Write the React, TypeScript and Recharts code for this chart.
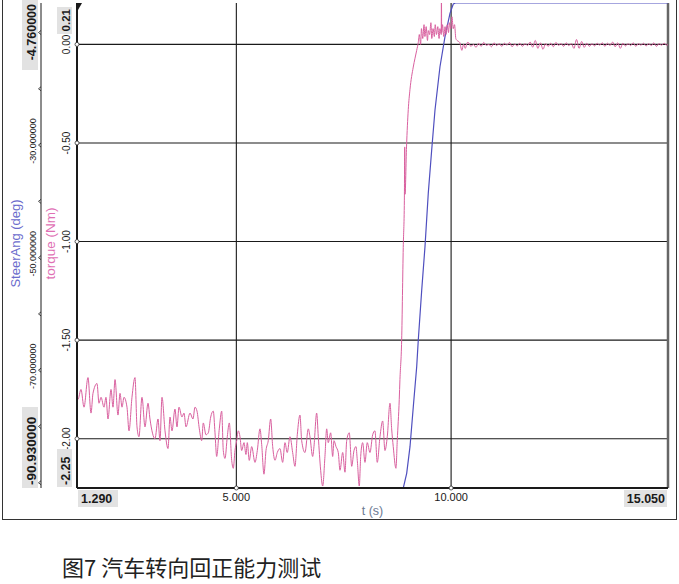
import { LineChart, Line, XAxis, YAxis, ReferenceLine, Label } from 'recharts';

// torque (Nm) over t (s)
const TORQUE: [number, number][] = [
  [1.29, -1.78], [1.313, -1.8], [1.383, -1.75], [1.453, -1.84], [1.546, -1.69], [1.616, -1.87],
  [1.662, -1.77], [1.756, -1.72], [1.802, -1.82], [1.849, -1.79], [1.919, -1.84], [1.965, -1.79],
  [2.012, -1.9], [2.082, -1.75], [2.128, -1.84], [2.175, -1.7], [2.244, -1.88], [2.291, -1.77],
  [2.338, -1.84], [2.384, -1.79], [2.454, -1.84], [2.501, -1.96], [2.57, -1.79], [2.64, -1.69],
  [2.687, -1.94], [2.733, -1.99], [2.803, -1.79], [2.873, -1.94], [2.943, -1.82], [2.989, -1.9],
  [3.106, -2.0], [3.176, -1.9], [3.222, -2.01], [3.269, -1.79], [3.339, -1.96], [3.409, -2.05],
  [3.455, -1.89], [3.502, -1.96], [3.571, -1.85], [3.618, -1.94], [3.665, -1.84], [3.734, -1.89],
  [3.781, -1.87], [3.828, -1.94], [3.921, -1.87], [3.99, -1.9],
  [4.037, -1.84], [4.084, -1.86], [4.138, -1.95], [4.193, -2.01], [4.23, -1.92], [4.293, -1.98],
  [4.347, -1.97], [4.403, -1.89], [4.463, -1.86], [4.503, -1.97], [4.542, -2.09], [4.603, -1.95],
  [4.659, -1.86], [4.696, -2.06], [4.736, -2.1], [4.789, -1.99], [4.836, -1.92], [4.892, -2.11],
  [4.929, -2.15], [4.968, -2.06], [5.008, -2.01], [5.045, -1.96], [5.085, -1.99], [5.124, -2.06],
  [5.178, -2.02], [5.224, -2.08], [5.255, -2.02], [5.301, -2.11], [5.357, -2.04], [5.434, -2.12],
  [5.488, -2.06], [5.55, -1.95], [5.59, -2.03], [5.643, -2.18], [5.69, -2.06], [5.743, -2.01],
  [5.799, -1.9], [5.846, -2.04], [5.9, -2.11], [5.953, -2.07], [6.016, -2.05], [6.078, -2.12],
  [6.132, -2.02], [6.185, -2.07], [6.249, -1.99], [6.311, -2.07], [6.365, -2.14], [6.419, -1.98],
  [6.481, -1.88], [6.521, -2.01], [6.598, -2.07], [6.675, -1.95],
  [6.714, -1.99], [6.777, -2.09], [6.807, -2.04], [6.87, -1.87], [6.908, -1.99], [6.963, -2.16],
  [7.01, -2.24], [7.063, -2.09], [7.103, -1.95], [7.14, -2.02], [7.196, -1.97], [7.243, -2.09],
  [7.273, -2.01], [7.32, -2.04], [7.373, -2.07], [7.413, -2.16], [7.476, -2.07], [7.529, -2.17],
  [7.569, -2.01], [7.629, -1.97], [7.686, -2.14], [7.739, -2.06], [7.785, -2.04], [7.816, -2.11],
  [7.862, -2.24], [7.895, -2.09], [7.941, -2.02], [7.995, -2.12], [8.048, -2.02], [8.111, -2.07],
  [8.174, -1.98], [8.227, -1.96], [8.281, -2.12], [8.344, -1.99], [8.407, -1.91], [8.46, -2.06],
  [8.514, -1.99], [8.577, -1.82], [8.616, -1.95], [8.653, -2.04], [8.716, -2.15], [8.746, -2.01],
  [8.793, -1.8], [8.809, -1.7], [8.849, -1.5], [8.886, -1.03], [8.912, -0.79], [8.92, -0.52],
  [8.928, -0.76], [8.962, -0.52], [9.003, -0.33], [9.042, -0.23], [9.119, -0.115], [9.16, -0.07],
  [9.199, -0.03], [9.236, 0.01],
  [9.26, 0.05], [9.29, 0.0], [9.31, 0.08], [9.34, 0.03], [9.37, 0.1], [9.39, 0.04], [9.42, 0.09],
  [9.45, 0.02], [9.47, 0.07], [9.5, 0.05], [9.53, 0.11], [9.55, 0.03], [9.58, 0.08], [9.61, 0.04],
  [9.63, 0.1], [9.66, 0.05], [9.69, 0.09], [9.72, 0.03], [9.74, 0.08], [9.77, 0.05], [9.775, 0.3],
  [9.78, 0.06], [9.8, 0.1], [9.83, 0.04], [9.86, 0.09], [9.88, 0.05], [9.91, 0.1], [9.94, 0.06],
  [9.96, 0.11], [9.99, 0.08], [10.02, 0.14], [10.05, 0.08], [10.08, 0.1], [10.11, 0.03],
  [10.14, 0.02], [10.2, 0.01], [10.25, -0.03], [10.29, 0.0], [10.33, -0.02], [10.38, 0.01],
  [10.4, 0.01], [10.46, -0.01], [10.52, 0.0], [10.58, -0.015], [10.64, 0.005], [10.7, -0.01],
  [10.76, 0.01], [10.82, -0.005], [10.88, 0.0], [10.94, -0.012], [11.0, 0.008], [11.06, -0.006],
  [11.12, 0.004], [11.18, -0.01], [11.24, 0.006], [11.3, -0.004], [11.36, 0.01], [11.42, -0.012],
  [11.48, 0.002], [11.54, -0.008], [11.6, 0.006], [11.66, -0.01], [11.72, 0.004], [11.78, -0.006],
  [11.84, 0.012], [11.9, -0.014], [11.96, 0.02], [12.02, -0.02], [12.08, 0.008], [12.14, -0.025],
  [12.2, 0.004], [12.26, -0.01], [12.32, 0.006], [12.38, -0.012], [12.44, 0.01], [12.5, -0.005],
  [12.56, 0.004], [12.62, -0.01], [12.68, 0.008], [12.74, -0.006], [12.8, 0.004], [12.86, -0.02],
  [12.92, 0.025], [12.98, -0.02], [13.04, 0.015], [13.1, -0.015], [13.16, 0.006], [13.22, -0.01],
  [13.28, 0.004], [13.34, -0.008], [13.4, 0.006], [13.46, -0.004], [13.52, 0.008], [13.58, -0.01],
  [13.64, 0.006], [13.7, -0.006], [13.76, 0.012], [13.82, -0.012], [13.88, 0.008], [13.94, -0.02],
  [14.0, 0.006], [14.06, -0.008], [14.12, 0.004], [14.18, -0.006], [14.24, 0.008], [14.3, -0.01],
  [14.36, 0.004], [14.42, -0.004], [14.48, 0.006], [14.54, -0.008], [14.6, 0.004], [14.66, -0.006],
  [14.72, 0.008], [14.78, -0.01], [14.84, 0.004], [14.9, -0.004], [14.96, 0.006], [15.02, -0.004],
  [15.05, 0.0],
];

// SteerAng (deg) over t (s)
const STEER: [number, number][] = [
  [1.29, -90.93], [8.887, -90.93], [8.966, -88.32], [9.043, -83.59], [9.12, -76.49],
  [9.199, -69.38], [9.236, -64.63], [9.316, -55.75], [9.392, -48.06], [9.469, -38.52],
  [9.548, -30.88], [9.625, -23.77], [9.741, -16.08], [9.858, -10.75], [9.974, -6.59],
  [10.051, -4.94], [10.1, -4.76], [15.05, -4.76],
];

const T_TICKS = [1.29, 5, 10, 15.05];
const T_GRID = [5, 10];
const TQ_TICKS = [0, -0.5, -1, -1.5, -2, 0.21, -2.25];
const TQ_GRID = [0, -0.5, -1, -1.5, -2];
const SA_TICKS = [-10, -20, -30, -40, -50, -60, -70, -80, -90, -4.76, -90.93];
const SA_LABELS = [-30, -50, -70];

const PINK = '#d9609f';
const BLUE = '#4f4fbf';
const BOX = '#e2e2e2';
const INK = '#1a1a1a';

// left axes are stacked by id: "left1" sits against the plot, "left2" outside it
const TQ_AXIS = 'left1';
const SA_AXIS = 'left2';

const torqueData = TORQUE.map(([t, v]) => ({ t, v }));
const steerData = STEER.map(([t, v]) => ({ t, v }));

function TimeTick({ x, y, payload }: any) {
  const v = payload.value;
  if (v === 1.29 || v === 15.05) {
    const left = v === 1.29;
    return (
      <g>
        <rect x={left ? x + 1 : x - 44} y={y + 2} width={left ? 40 : 43} height={17} fill={BOX} />
        <text x={left ? x + 4 : x - 3} y={y + 15} textAnchor={left ? 'start' : 'end'}
          fontSize={12.5} fontWeight="bold" fill={INK}>{v.toFixed(3)}</text>
      </g>
    );
  }
  return (
    <g>
      <circle cx={x} cy={y} r={2} fill="#fff" stroke="#333" strokeWidth={0.8} />
      <text x={x} y={y + 13} textAnchor="middle" fontSize={11} fill={INK}>{v.toFixed(3)}</text>
    </g>
  );
}

function TorqueTick({ x, y, payload }: any) {
  const v = payload.value;
  if (v === 0.21) {
    return (
      <g>
        <rect x={x - 20} y={y + 4} width={15} height={27} fill={BOX} />
        <text transform={`rotate(-90 ${x - 7.5} ${y + 6})`} x={x - 7.5} y={y + 6} textAnchor="end"
          fontSize={11.5} fontWeight="bold" fill={INK}>0.21</text>
        <polygon points={`${x},${y} ${x + 5},${y} ${x + 1},${y + 7}`} fill={INK} />
      </g>
    );
  }
  if (v === -2.25) {
    return (
      <g>
        <rect x={x - 20} y={y - 39} width={15} height={38} fill={BOX} />
        <text transform={`rotate(-90 ${x - 7.5} ${y - 3})`} x={x - 7.5} y={y - 3} textAnchor="start"
          fontSize={12.5} fontWeight="bold" fill={INK}>-2.25</text>
      </g>
    );
  }
  return (
    <g>
      <circle cx={x} cy={y} r={2} fill="#fff" stroke="#333" strokeWidth={0.8} />
      <text transform={`rotate(-90 ${x - 6.5} ${y})`} x={x - 6.5} y={y} textAnchor="middle"
        fontSize={10} fill={INK}>{v.toFixed(2)}</text>
    </g>
  );
}

function SteerTick({ x, y, payload }: any) {
  const v = payload.value;
  if (v === -4.76) {
    return (
      <g>
        <rect x={x - 19} y={y - 3} width={16} height={70} fill={BOX} />
        <text transform={`rotate(-90 ${x - 5} ${y + 1})`} x={x - 5} y={y + 1} textAnchor="end"
          fontSize={12.5} fontWeight="bold" fill={INK}>{v.toFixed(6)}</text>
      </g>
    );
  }
  if (v === -90.93) {
    return (
      <g>
        <rect x={x - 19} y={y - 81} width={16} height={81} fill={BOX} />
        <text transform={`rotate(-90 ${x - 5} ${y - 3})`} x={x - 5} y={y - 3} textAnchor="start"
          fontSize={13.5} fontWeight="bold" fill={INK}>{v.toFixed(6)}</text>
      </g>
    );
  }
  return (
    <g>
      <polyline points={`${x},${y - 2} ${x - 2.5},${y} ${x},${y + 2}`} fill="none" stroke={INK} strokeWidth={0.8} />
      {SA_LABELS.includes(v) && (
        <text transform={`rotate(-90 ${x - 5} ${y - 4})`} x={x - 5} y={y - 4} textAnchor="middle"
          fontSize={9} fill={INK}>{v.toFixed(6)}</text>
      )}
    </g>
  );
}

function VTitle({ viewBox, text, color, dx, size }: any) {
  const bx = viewBox.x + dx;
  const cy = viewBox.y + viewBox.height / 2 - 2;
  return (
    <text transform={`rotate(-90 ${bx} ${cy})`} x={bx} y={cy} textAnchor="middle" fontSize={size} fill={color}>
      {text}
    </text>
  );
}

function XTitle({ viewBox }: any) {
  return (
    <text x={viewBox.x + viewBox.width / 2} y={viewBox.y + 27} textAnchor="middle" fontSize={12.5} fill="#6c7a93">
      t (s)
    </text>
  );
}

export default function App() {
  return (
    <div style={{ position: 'absolute', left: 0, top: 0, width: 679, height: 584, background: '#fff',
      fontFamily: '"Liberation Sans", Arial, sans-serif' }}>
      <div style={{ position: 'absolute', left: 2, top: -2, width: 673, height: 521,
        borderLeft: '1.5px solid #333', borderRight: '1.5px solid #333', borderBottom: '1.5px solid #333' }} />
      <div style={{ position: 'absolute', left: 0, top: 0 }}>
        <LineChart width={679} height={525} margin={{ top: 3, right: 11, bottom: 7, left: 0 }}>
          <XAxis xAxisId="t" dataKey="t" type="number" domain={[1.29, 15.05]} ticks={T_TICKS} interval={0}
            allowDataOverflow tickSize={0} tickMargin={0} height={30}
            axisLine={{ stroke: INK, strokeWidth: 2 }} tick={<TimeTick />}>
            <Label content={(p: any) => <XTitle viewBox={p.viewBox} />} />
          </XAxis>
          <YAxis yAxisId={TQ_AXIS} type="number" domain={[-2.25, 0.21]} ticks={TQ_TICKS} interval={0}
            allowDataOverflow width={36} tickSize={0} tickMargin={0}
            axisLine={{ stroke: INK, strokeWidth: 2 }} tick={<TorqueTick />}>
            <Label content={(p: any) => <VTitle viewBox={p.viewBox} text="torque (Nm)" color="#e070b4" dx={13.5} size={13.5} />} />
          </YAxis>
          <YAxis yAxisId={SA_AXIS} type="number" domain={[-90.93, -4.76]} ticks={SA_TICKS} interval={0}
            allowDataOverflow width={41} tickSize={0} tickMargin={0}
            axisLine={{ stroke: INK, strokeWidth: 1 }} tick={<SteerTick />}>
            <Label content={(p: any) => <VTitle viewBox={p.viewBox} text="SteerAng (deg)" color="#6b6bcc" dx={19.5} size={13} />} />
          </YAxis>
          {TQ_GRID.map((g) => (
            <ReferenceLine key={`h${g}`} xAxisId="t" yAxisId={TQ_AXIS} y={g} stroke={INK} strokeWidth={1.1} />
          ))}
          {T_GRID.map((g) => (
            <ReferenceLine key={`v${g}`} xAxisId="t" yAxisId={TQ_AXIS} x={g} stroke={INK} strokeWidth={1.1} />
          ))}
          <ReferenceLine xAxisId="t" yAxisId={TQ_AXIS} x={15.05} stroke="#666" strokeWidth={2.5} />
          <Line xAxisId="t" yAxisId={SA_AXIS} data={steerData} dataKey="v" type="linear" stroke={BLUE}
            strokeWidth={1.2} dot={false} isAnimationActive={false} />
          <Line xAxisId="t" yAxisId={TQ_AXIS} data={torqueData} dataKey="v" type="monotone" stroke={PINK}
            strokeWidth={1} dot={false} isAnimationActive={false} />
        </LineChart>
      </div>
      <div style={{ position: 'absolute', left: 62, top: 550, fontSize: 22, color: '#222',
        fontFamily: '"Noto Sans CJK SC", sans-serif', whiteSpace: 'nowrap' }}>
        图7 汽车转向回正能力测试
      </div>
    </div>
  );
}
